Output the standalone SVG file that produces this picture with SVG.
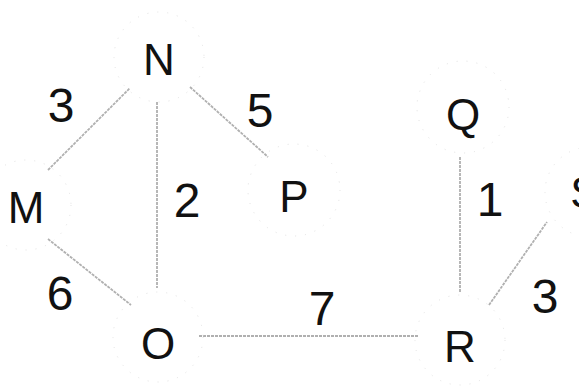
<svg xmlns="http://www.w3.org/2000/svg" width="579" height="389" viewBox="0 0 579 389">
<style>
.ring{fill:none;stroke:#e2e2e2;stroke-width:1;stroke-dasharray:1 9}
.lbl{font-family:"Liberation Sans",Arial,sans-serif;font-size:44px;fill:#111;text-anchor:middle}
.w{font-family:"Liberation Sans",Arial,sans-serif;font-size:48px;fill:#111;text-anchor:middle}
.e{stroke:#b0b0b0;stroke-width:1.8;fill:none;stroke-dasharray:3 1}
</style>
<rect width="579" height="389" fill="#fff"/>
<g id="connectors">
<line class="e" x1="48" y1="170" x2="130" y2="88"/>
<line class="e" x1="190" y1="87" x2="268" y2="157"/>
<line class="e" x1="157" y1="102" x2="157" y2="288"/>
<line class="e" x1="48" y1="239" x2="131" y2="305"/>
<line class="e" x1="199" y1="336" x2="418" y2="336"/>
<line class="e" x1="460" y1="157" x2="460" y2="292"/>
<line class="e" x1="489" y1="305" x2="547" y2="222"/>
<text class="w" x="61" y="122">3</text>
<text class="w" x="260" y="127">5</text>
<text class="w" x="187" y="217">2</text>
<text class="w" x="60" y="310">6</text>
<text class="w" x="322" y="325">7</text>
<text class="w" x="490" y="216">1</text>
<text class="w" x="545" y="313">3</text>
</g>
<g id="node-N"><circle class="ring" cx="159" cy="57" r="45"/><text class="lbl" x="159" y="75">N</text></g>
<g id="node-M"><circle class="ring" cx="26" cy="205" r="45"/><text class="lbl" x="26" y="223">M</text></g>
<g id="node-O"><circle class="ring" cx="158" cy="337" r="45"/><text class="lbl" x="158" y="359">O</text></g>
<g id="node-P"><circle class="ring" cx="294" cy="190" r="46"/><text class="lbl" x="294" y="212">P</text></g>
<g id="node-Q"><circle class="ring" cx="463" cy="107" r="46"/><text class="lbl" x="463" y="130">Q</text></g>
<g id="node-R"><circle class="ring" cx="460" cy="340" r="45"/><text class="lbl" x="460" y="362">R</text></g>
<g id="node-S"><circle class="ring" cx="590" cy="192" r="45"/><text class="lbl" x="585" y="208">S</text></g>
</svg>
